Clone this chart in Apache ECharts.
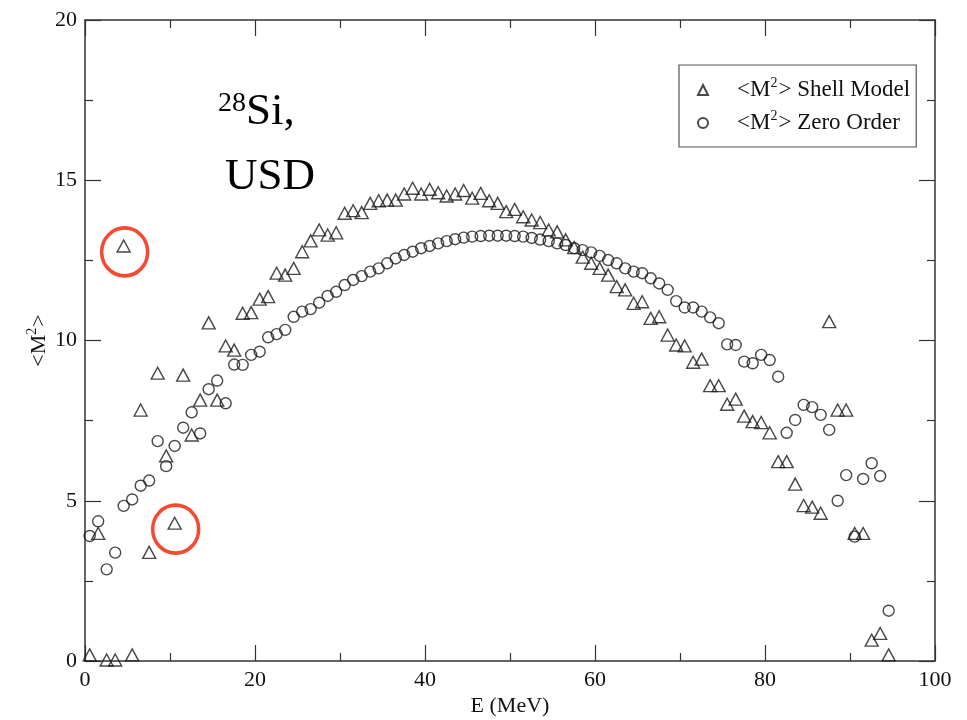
<!DOCTYPE html>
<html><head><meta charset="utf-8">
<script src="https://cdn.jsdelivr.net/npm/echarts@6/dist/echarts.min.js"></script>
<style>html,body{margin:0;padding:0;background:#fff}#c{width:967px;height:720px}</style>
</head><body><div id="c"></div>
<script>
const energies = [0.55,1.55,2.55,3.55,4.55,5.55,6.55,7.55,8.55,9.55,
10.55,11.55,12.55,13.55,14.55,15.55,16.55,17.55,18.55,19.55,
20.55,21.55,22.55,23.55,24.55,25.55,26.55,27.55,28.55,29.55,
30.55,31.55,32.55,33.55,34.55,35.55,36.55,37.55,38.55,39.55,
40.55,41.55,42.55,43.55,44.55,45.55,46.55,47.55,48.55,49.55,
50.55,51.55,52.55,53.55,54.55,55.55,56.55,57.55,58.55,59.55,
60.55,61.55,62.55,63.55,64.55,65.55,66.55,67.55,68.55,69.55,
70.55,71.55,72.55,73.55,74.55,75.55,76.55,77.55,78.55,79.55,
80.55,81.55,82.55,83.55,84.55,85.55,86.55,87.55,88.55,89.55,
90.55,91.55,92.55,93.55,94.55];
const shellModel = [0.19,3.98,0.03,0.03,12.95,0.19,7.83,3.39,8.98,6.40,
4.30,8.92,7.05,8.14,10.55,8.14,9.83,9.70,10.85,10.87,
11.29,11.37,12.10,12.04,12.25,12.77,13.11,13.45,13.29,13.36,
13.97,14.05,13.99,14.28,14.36,14.38,14.38,14.57,14.75,14.57,
14.72,14.61,14.51,14.57,14.68,14.44,14.59,14.36,14.28,14.02,
14.09,13.86,13.76,13.68,13.45,13.39,13.14,12.90,12.60,12.41,
12.25,12.04,11.68,11.58,11.16,11.21,10.69,10.74,10.17,9.86,
9.83,9.32,9.42,8.59,8.59,8.01,8.17,7.64,7.47,7.44,
7.12,6.22,6.22,5.52,4.85,4.80,4.61,10.59,7.83,7.83,
3.98,3.98,0.65,0.86,0.19];
const zeroOrder = [3.90,4.36,2.86,3.38,4.84,5.04,5.47,5.63,6.86,6.08,
6.71,7.28,7.76,7.10,8.48,8.75,8.04,9.25,9.24,9.55,
9.65,10.10,10.20,10.33,10.74,10.90,10.98,11.18,11.39,11.52,
11.73,11.89,12.01,12.15,12.25,12.41,12.56,12.67,12.77,12.88,
12.95,13.03,13.10,13.16,13.21,13.24,13.26,13.27,13.27,13.27,
13.26,13.24,13.20,13.15,13.10,13.03,12.98,12.88,12.82,12.75,
12.64,12.51,12.41,12.25,12.15,12.10,11.94,11.78,11.58,11.23,
11.03,11.03,10.90,10.72,10.54,9.88,9.86,9.34,9.29,9.55,
9.39,8.87,7.12,7.52,7.99,7.92,7.68,7.21,5.00,5.80,
3.88,5.68,6.17,5.77,1.57];
const circledIdx = [4, 10];
const seriesNames = ['Shell Model', 'Zero Order'];

const FONT = '"Liberation Serif", "Times New Roman", serif';
const AX = '#333';
const supStyle = { fontFamily: FONT, fontSize: 14, color: '#111', verticalAlign: 'top', lineHeight: 14, padding: [0, 1, 0, 0] };
function xAx(pos, labels) {
  return {
    type: 'value', min: 0, max: 100, interval: 20, position: pos,
    axisLine: { onZero: false, lineStyle: { color: AX, width: 1.5 } },
    axisTick: { inside: true, length: 16, lineStyle: { color: AX, width: 1.2 } },
    minorTick: { show: true, splitNumber: 2, length: 8, lineStyle: { color: AX, width: 1.2 } },
    axisLabel: { show: labels, fontFamily: FONT, fontSize: 22, color: '#111', margin: 8 },
    splitLine: { show: false },
    name: labels ? 'E (MeV)' : '', nameLocation: 'middle', nameGap: 34, nameMoveOverlap: false,
    nameTextStyle: { fontFamily: FONT, fontSize: 22, color: '#111' }
  };
}
function yAx(pos, labels) {
  return {
    type: 'value', min: 0, max: 20, interval: 5, position: pos,
    axisLine: { onZero: false, lineStyle: { color: AX, width: 1.5 } },
    axisTick: { inside: true, length: 16, lineStyle: { color: AX, width: 1.2 } },
    minorTick: { show: true, splitNumber: 2, length: 8, lineStyle: { color: AX, width: 1.2 } },
    axisLabel: { show: labels, fontFamily: FONT, fontSize: 22, color: '#111', margin: 8 },
    splitLine: { show: false },
    name: labels ? '<M{sup|2}>' : '', nameLocation: 'middle', nameGap: 32, nameMoveOverlap: false,
    nameTextStyle: { fontFamily: FONT, fontSize: 22, color: '#111', lineHeight: 28,
      rich: { sup: supStyle } }
  };
}
const symStyle = { color: 'transparent', borderColor: '#1a1a1a', borderWidth: 1.4 };
const chart = echarts.init(document.getElementById('c'));
chart.setOption({
  backgroundColor: '#fff',
  animation: false,
  grid: { left: 85, right: 32, top: 20, bottom: 59, outerBoundsMode: 'none', containLabel: false },
  xAxis: [xAx('bottom', true), xAx('top', false)],
  yAxis: [yAx('left', true), yAx('right', false)],
  legend: {
    data: seriesNames, orient: 'vertical', left: 679, top: 65,
    padding: [11, 6, 10, 18], itemGap: 5, itemWidth: 10, itemHeight: 10,
    borderColor: '#555', borderWidth: 1.2, borderRadius: 0,
    formatter: n => '{gap|}<M{sup|2}> ' + n,
    textStyle: { fontFamily: FONT, fontSize: 23, color: '#111', lineHeight: 28,
      rich: { gap: { width: 24 }, sup: supStyle } }
  },
  graphic: [
    { type: 'text', left: 218, top: 90, z: 10,
      style: { text: '{sup|28}Si,', fontFamily: FONT, fontSize: 45, fill: '#000',
        rich: { sup: { fontFamily: FONT, fontSize: 28, fill: '#000', verticalAlign: 'top' } } } },
    { type: 'text', left: 225, top: 155, z: 10,
      style: { text: 'USD', fontFamily: FONT, fontSize: 45, fill: '#000' } }
  ],
  series: [
    { name: seriesNames[0], type: 'scatter', symbol: 'triangle', symbolSize: [13, 12],
      itemStyle: symStyle, data: energies.map((e, i) => [e, shellModel[i]]) },
    { name: seriesNames[1], type: 'scatter', symbol: 'circle', symbolSize: 11,
      itemStyle: symStyle, data: energies.map((e, i) => [e, zeroOrder[i]]) },
    { name: 'circled', type: 'scatter', symbol: 'circle', symbolSize: [46, 48], symbolOffset: [1, 6],
      silent: true, itemStyle: { color: 'transparent', borderColor: '#f01e00', borderWidth: 3.6 },
      data: circledIdx.map(i => [energies[i], shellModel[i]]) }
  ]
});
</script></body></html>
